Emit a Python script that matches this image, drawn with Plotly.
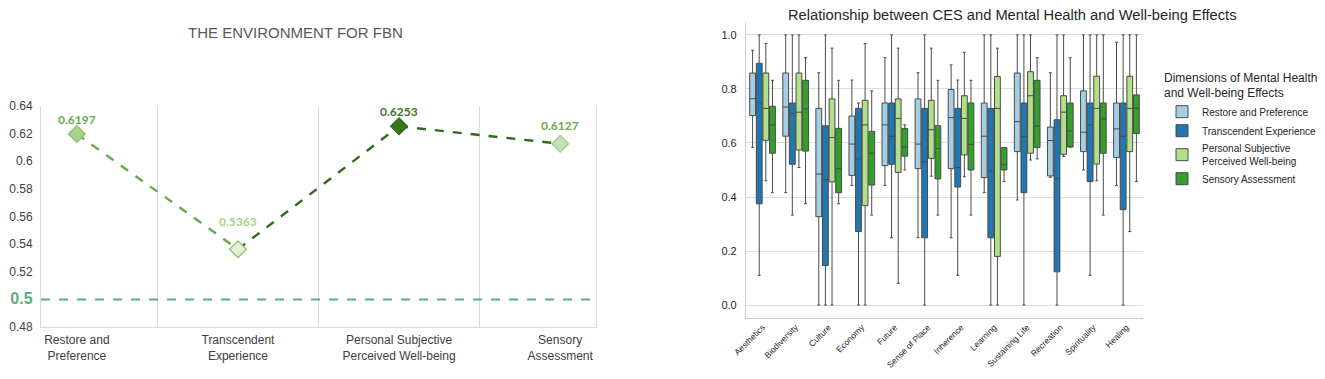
import plotly.graph_objects as go

# ---------------- Left panel data ----------------
left_categories = ["Restore and<br>Preference", "Transcendent<br>Experience",
                   "Personal Subjective<br>Perceived Well-being", "Sensory<br>Assessment"]
left_values = [0.6197, 0.5363, 0.6253, 0.6127]
left_labels = ["0.6197", "0.5363", "0.6253", "0.6127"]
threshold = 0.5
left_yticks = [0.48, 0.5, 0.52, 0.54, 0.56, 0.58, 0.6, 0.62, 0.64]
left_yticktext = ["0.48", "<span style='color:#5aae7e;font-size:16px'><b>0.5</b></span>", "0.52", "0.54",
                  "0.56", "0.58", "0.6", "0.62", "0.64"]

# ---------------- Right panel data ----------------
ces_categories = ["Aesthetics", "Biodiversity", "Culture", "Economy", "Future", "Sense of Place",
                  "Inherence", "Learning", "Sustaining Life", "Recreation", "Spirituality", "Healing"]
dimensions = ["Restore and Preference", "Transcendent Experience",
              "Personal Subjective<br>Perceived Well-being", "Sensory Assessment"]

restore_high = [0.943, 1.0, 0.860, 0.833, 0.916, 0.860, 0.889, 1.0, 1.0, 0.860, 1.0, 0.973]
restore_q3 = [0.859, 0.859, 0.728, 0.700, 0.748, 0.763, 0.798, 0.748, 0.859, 0.659, 0.793, 0.748]
restore_med = [0.764, 0.733, 0.485, 0.596, 0.667, 0.596, 0.694, 0.625, 0.679, 0.609, 0.640, 0.652]
restore_q1 = [0.701, 0.625, 0.327, 0.480, 0.516, 0.505, 0.505, 0.472, 0.568, 0.478, 0.568, 0.546]
restore_low = [0.584, 0.416, 0.0, 0.443, 0.443, 0.249, 0.249, 0.416, 0.389, 0.473, 0.5, 0.443]

trans_high = [1.0, 1.0, 1.0, 0.748, 1.0, 1.0, 0.833, 1.0, 1.0, 1.0, 1.0, 1.0]
trans_q3 = [0.895, 0.748, 0.664, 0.728, 0.748, 0.728, 0.728, 0.728, 0.748, 0.686, 0.748, 0.748]
trans_med = [0.748, 0.709, 0.464, 0.541, 0.625, 0.530, 0.509, 0.496, 0.625, 0.468, 0.667, 0.625]
trans_q1 = [0.375, 0.521, 0.146, 0.272, 0.521, 0.249, 0.437, 0.249, 0.416, 0.123, 0.457, 0.353]
trans_low = [0.110, 0.333, 0.0, 0.0, 0.249, 0.0, 0.110, 0.0, 0.0, 0.0, 0.110, 0.0]

pspw_high = [0.968, 1.0, 0.951, 0.968, 0.951, 0.951, 0.936, 0.951, 1.0, 1.0, 1.0, 1.0]
pspw_q3 = [0.859, 0.859, 0.763, 0.758, 0.763, 0.758, 0.775, 0.846, 0.864, 0.775, 0.847, 0.847]
pspw_med = [0.728, 0.714, 0.620, 0.667, 0.691, 0.649, 0.691, 0.728, 0.775, 0.714, 0.728, 0.728]
pspw_q1 = [0.610, 0.574, 0.456, 0.368, 0.491, 0.543, 0.556, 0.180, 0.562, 0.558, 0.522, 0.568]
pspw_low = [0.460, 0.509, 0.0, 0.0, 0.080, 0.477, 0.475, 0.0, 0.537, 0.550, 0.460, 0.272]

sens_high = [0.832, 0.916, 0.832, 0.793, 0.667, 0.832, 0.832, 0.583, 0.916, 0.916, 1.0, 1.0]
sens_q3 = [0.736, 0.832, 0.654, 0.643, 0.654, 0.664, 0.748, 0.583, 0.832, 0.748, 0.748, 0.778]
sens_med = [0.667, 0.726, 0.505, 0.562, 0.585, 0.580, 0.595, 0.519, 0.663, 0.644, 0.689, 0.728]
sens_q1 = [0.562, 0.570, 0.416, 0.444, 0.551, 0.467, 0.500, 0.500, 0.583, 0.585, 0.562, 0.635]
sens_low = [0.416, 0.375, 0.375, 0.333, 0.500, 0.333, 0.333, 0.457, 0.541, 0.585, 0.333, 0.457]

box_colors = ["#a6cee3", "#1f78b4", "#b2df8a", "#33a02c"]
right_yticks = [0.0, 0.2, 0.4, 0.6, 0.8, 1.0]

# page body has an 8px margin; the figure fills the rest of the 1325x379 window
OFF = 8
W, H = 1325 - 2 * OFF, 379 - 2 * OFF
def px_x(p):
    return (p - OFF) / W
def px_y(p):
    return (H - (p - OFF)) / H

fig = go.Figure()

# ---------------- Left panel ----------------
seg_colors = ["#6aa84f", "#2f6b1a", "#2f6b1a"]
for i in range(len(left_values) - 1):
    fig.add_trace(go.Scatter(
        x=left_categories[i:i + 2], y=left_values[i:i + 2], mode="lines",
        line=dict(color=seg_colors[i], width=2.4, dash="dash"),
        showlegend=False, hoverinfo="skip", xaxis="x", yaxis="y"))

marker_fill = ["#a9d18e", "#e2efd9", "#38761d", "#c5e0b4"]
marker_line = ["#8cbf6a", "#8cbf6a", "#2f6b1a", "#9fcb85"]
label_colors = ["#6aa84f", "#a9d18e", "#38761d", "#6aa84f"]
label_shift = [15, 28, 15, 18]
fig.add_trace(go.Scatter(
    x=left_categories, y=left_values, mode="markers",
    marker=dict(symbol="diamond", size=13, color=marker_fill,
                line=dict(color=marker_line, width=1.2)),
    showlegend=False, hoverinfo="skip", xaxis="x", yaxis="y"))

annotations = []
for cat, val, lab, col, sh in zip(left_categories, left_values, left_labels, label_colors, label_shift):
    annotations.append(dict(x=cat, y=val, xref="x", yref="y", text="<b>" + lab + "</b>",
                            showarrow=False, yshift=sh,
                            font=dict(family="Lato, Open Sans, sans-serif", size=12, color=col)))

# threshold reference line
fig.add_shape(type="line", xref="x domain", yref="y", x0=0, x1=1, y0=threshold, y1=threshold,
              line=dict(color="#5aae7e", width=2, dash="dash"))

# ---------------- Right panel ----------------
stats = [
    (restore_low, restore_q1, restore_med, restore_q3, restore_high),
    (trans_low, trans_q1, trans_med, trans_q3, trans_high),
    (pspw_low, pspw_q1, pspw_med, pspw_q3, pspw_high),
    (sens_low, sens_q1, sens_med, sens_q3, sens_high),
]
for name, color, (lo, q1, med, q3, hi) in zip(dimensions, box_colors, stats):
    fig.add_trace(go.Box(
        name=name, x=ces_categories, lowerfence=lo, q1=q1, median=med, q3=q3, upperfence=hi,
        fillcolor=color, line=dict(color="#4a4a4a", width=1), whiskerwidth=0.5,
        boxpoints=False, xaxis="x2", yaxis="y2"))

axis_font = dict(family="Liberation Sans, Arial, sans-serif", size=12, color="#404040")

annotations += [
    dict(text="THE ENVIRONMENT FOR FBN", x=px_x(295), y=px_y(32), xref="paper", yref="paper",
         xanchor="center", yanchor="middle", showarrow=False,
         font=dict(family="Liberation Sans, Arial, sans-serif", size=15, color="#595959")),
    dict(text="Relationship between CES and Mental Health and Well-being Effects",
         x=px_x(1012), y=px_y(15), xref="paper", yref="paper", showarrow=False,
         xanchor="center", yanchor="middle",
         font=dict(family="Liberation Sans, Arial, sans-serif", size=14.7, color="#262626")),
]

fig.update_layout(
    width=W, height=H,
    margin=dict(l=0, r=0, t=0, b=0, autoexpand=False),
    paper_bgcolor="white", plot_bgcolor="white",
    boxmode="group", boxgap=0.2, boxgroupgap=0.12,
    font=dict(family="Liberation Sans, Arial, sans-serif", color="#262626"),
    xaxis=dict(domain=[px_x(41), px_x(596)], type="category", tickson="boundaries",
               showgrid=True, gridcolor="#d9d9d9", gridwidth=1, ticks="",
               showline=True, linecolor="#d9d9d9", linewidth=1, automargin=False,
               tickfont=axis_font, anchor="y", ticklabelstandoff=2),
    yaxis=dict(domain=[px_y(327), px_y(106)], range=[0.48, 0.64],
               tickvals=left_yticks, ticktext=left_yticktext,
               showgrid=False, zeroline=False, showline=True, mirror=True, linecolor="#d9d9d9",
               tickfont=axis_font, ticklabelstandoff=5, anchor="x", automargin=False),
    xaxis2=dict(domain=[px_x(746), px_x(1143)], type="category",
                tickangle=-45, tickfont=dict(family="Liberation Sans, Arial, sans-serif", size=8.5, color="#262626"),
                showgrid=False, showline=True, linecolor="#cccccc", linewidth=1.2, ticks="",
                anchor="y2", automargin=False, ticklabelstandoff=0),
    yaxis2=dict(domain=[px_y(318), px_y(21.7)], range=[-0.048, 1.049],
                tickvals=right_yticks, tickformat=".1f",
                showgrid=True, gridcolor="#dddddd", gridwidth=1.2, zeroline=False,
                showline=True, linecolor="#cccccc", linewidth=1.2,
                tickfont=dict(family="Liberation Sans, Arial, sans-serif", size=11, color="#262626"),
                ticklabelstandoff=6, anchor="x2", automargin=False),
    legend=dict(x=px_x(1162), y=px_y(66), xanchor="left", yanchor="top",
                title=dict(text="Dimensions of Mental Health<br>and Well-being Effects",
                           font=dict(size=12, color="#262626")),
                font=dict(size=10, color="#262626"), tracegroupgap=2,
                bgcolor="rgba(0,0,0,0)"),
    annotations=annotations,
)

fig.write_html("out.html")
